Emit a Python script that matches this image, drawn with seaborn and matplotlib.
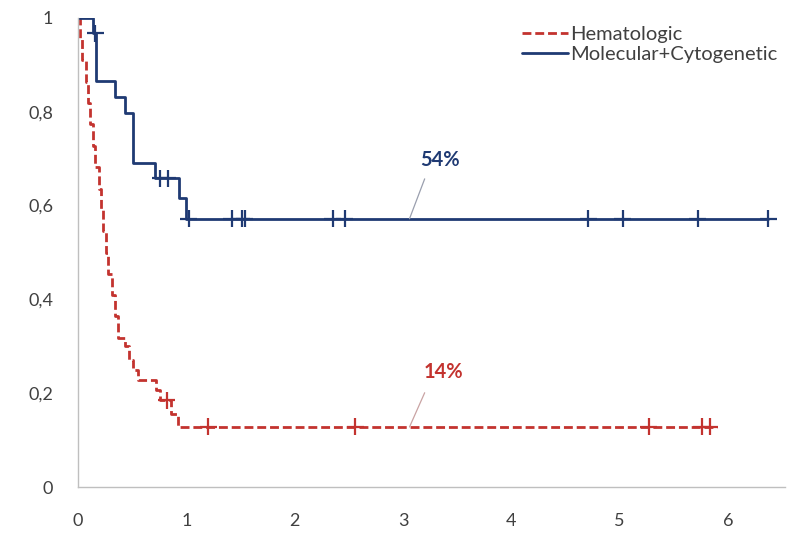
import matplotlib
matplotlib.use("Agg")
import matplotlib.pyplot as plt
import seaborn as sns
import pandas as pd

# Kaplan-Meier step data: event times and survival after each event
heme_times = [0.02, 0.04, 0.07, 0.09, 0.11, 0.14, 0.16, 0.19, 0.21, 0.23, 0.26, 0.28,
              0.31, 0.34, 0.37, 0.43, 0.47, 0.51, 0.55, 0.72, 0.76, 0.86, 0.92]
heme_surv = [0.955, 0.91, 0.864, 0.818, 0.773, 0.727, 0.682, 0.636, 0.591, 0.545, 0.50, 0.455,
             0.409, 0.364, 0.318, 0.30, 0.27, 0.25, 0.228, 0.207, 0.185, 0.155, 0.128]
heme_end = 5.90
heme_cens_t = [0.82, 1.20, 2.56, 5.27, 5.76, 5.83]
heme_cens_s = [0.185, 0.128, 0.128, 0.128, 0.128, 0.128]

mol_times = [0.14, 0.17, 0.34, 0.43, 0.51, 0.71, 0.93, 1.00]
mol_surv = [0.967, 0.866, 0.831, 0.797, 0.690, 0.658, 0.616, 0.572]
mol_end = 6.37
mol_cens_t = [0.16, 0.76, 0.83, 1.02, 1.42, 1.51, 1.54, 2.35, 2.46, 4.71, 5.03, 5.72, 6.37]
mol_cens_s = [0.967, 0.658, 0.658, 0.572, 0.572, 0.572, 0.572, 0.572, 0.572, 0.572, 0.572, 0.572, 0.572]

groups = ["Hematologic", "Molecular+Cytogenetic"]
labels = ["14%", "54%"]
x_ticks = [0, 1, 2, 3, 4, 5, 6]
y_ticks = [0, 0.2, 0.4, 0.6, 0.8, 1.0]
y_tick_labels = ["0", "0,2", "0,4", "0,6", "0,8", "1"]

RED = "#C3332F"
BLUE = "#1F3A73"
palette = {groups[0]: RED, groups[1]: BLUE}


def step_frame(name, times, surv, end):
    t = [0.0] + list(times) + [end]
    s = [1.0] + list(surv) + [surv[-1]]
    return pd.DataFrame({"t": t, "s": s, "group": name})


curves = pd.concat([
    step_frame(groups[0], heme_times, heme_surv, heme_end),
    step_frame(groups[1], mol_times, mol_surv, mol_end),
], ignore_index=True)

censored = pd.concat([
    pd.DataFrame({"t": heme_cens_t, "s": heme_cens_s, "group": groups[0]}),
    pd.DataFrame({"t": mol_cens_t, "s": mol_cens_s, "group": groups[1]}),
], ignore_index=True)

sns.set_theme(style="white")
plt.rcParams["font.family"] = ["Lato", "DejaVu Sans"]

fig = plt.figure(figsize=(8.02, 5.40), dpi=100)
ax = fig.add_axes([0.0973, 0.0981, 0.882, 0.8686])

sns.lineplot(data=curves, x="t", y="s", hue="group", style="group",
             palette=palette, dashes={groups[0]: (3.2, 1.4), groups[1]: ""},
             drawstyle="steps-post", estimator=None, sort=False, linewidth=2.0, ax=ax)

sns.scatterplot(data=censored, x="t", y="s", hue="group", palette=palette,
                marker="+", s=150, linewidth=1.6, legend=False, ax=ax, zorder=3)

# Annotations with leader lines
ax.plot([3.06, 3.20], [0.128, 0.201], color="#C9A3A3", lw=0.9)
ax.text(3.37, 0.246, labels[0], color=RED, fontsize=14.5, fontweight="bold",
        ha="center", va="center")
ax.plot([3.06, 3.20], [0.572, 0.657], color="#9A9FAE", lw=0.9)
ax.text(3.34, 0.697, labels[1], color=BLUE, fontsize=14.5, fontweight="bold",
        ha="center", va="center")

ax.set_xlim(0, 6.53)
ax.set_ylim(0, 1)
ax.set_xticks(x_ticks)
ax.set_xticklabels([str(v) for v in x_ticks])
ax.set_yticks(y_ticks)
ax.set_yticklabels(y_tick_labels)
ax.set_xlabel("")
ax.set_ylabel("")
ax.tick_params(axis="both", length=0, labelsize=13, colors="#404040")
ax.tick_params(axis="y", pad=18)
ax.tick_params(axis="x", pad=19)

for side in ["top", "right"]:
    ax.spines[side].set_visible(False)
for side in ["left", "bottom"]:
    ax.spines[side].set_color("#BFBFBF")
    ax.spines[side].set_linewidth(1.0)

handles, lbls = ax.get_legend_handles_labels()
leg = ax.legend(handles[:2], lbls[:2], loc="upper right", bbox_to_anchor=(1.0, 1.0),
                frameon=False, fontsize=14.5, handlelength=2.3, handletextpad=0.1,
                labelspacing=0.15, borderaxespad=0.0)
for txt in leg.get_texts():
    txt.set_color("#404040")

fig.savefig("out.png", dpi=100, facecolor="white")
